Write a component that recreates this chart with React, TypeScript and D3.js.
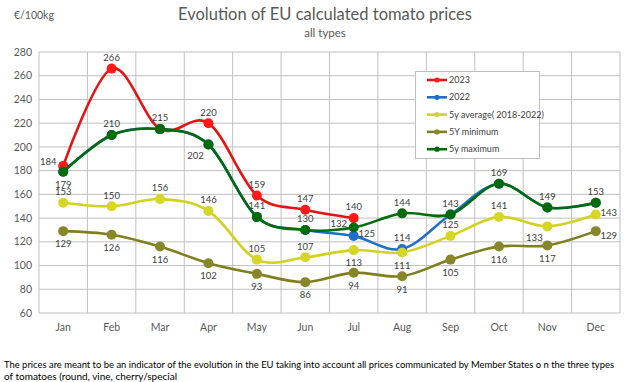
import React from 'react';
import * as d3 from 'd3';

const months = ['Jan', 'Feb', 'Mar', 'Apr', 'May', 'Jun', 'Jul', 'Aug', 'Sep', 'Oct', 'Nov', 'Dec'];
const yTicks = [60, 80, 100, 120, 140, 160, 180, 200, 220, 240, 260, 280];

const s2023 = [184, 266, 215, 220, 159, 147, 140];
const s2022 = [179, 210, 215, 202, 141, 130, 125, 114, 143, 169, 149, 153];
const sAvg = [153, 150, 156, 146, 105, 107, 113, 111, 125, 141, 133, 143];
const sMin = [129, 126, 116, 102, 93, 86, 94, 91, 105, 116, 117, 129];
const sMax = [179, 210, 215, 202, 141, 130, 132, 144, 143, 169, 149, 153];

const seriesNames = ['2023', '2022', '5y average( 2018-2022)', '5Y minimum', '5y maximum'];

// label placement codes (n = hidden)
const place2023 = ['tl', 't', 't', 't', 't', 't', 't'];
const place2022 = ['n', 'n', 'n', 'n', 'n', 'n', 'r', 't', 'n', 'n', 'n', 'n'];
const placeAvg = ['t', 't', 't', 't', 't', 't', 'b', 'b', 't', 't', 'bl', 'r'];
const placeMin = ['b', 'b', 'b', 'b', 'b', 'b', 'b', 'b', 'b', 'b', 'b', 'br'];
const placeMax = ['b', 't', 'n', 'bl', 't', 't', 'tl', 't', 't', 't', 't', 't'];

const footLines = [
  'The prices are meant to be an indicator of the evolution in the EU taking into account all prices communicated by Member States o n the three types',
  'of tomatoes (round, vine, cherry/special',
];

const W = 626;
const H = 382;
const M = { left: 39, right: 620, top: 52, bottom: 313 };

const offsets: Record<string, [number, number]> = {
  t: [0, -11],
  b: [0, 13],
  tl: [-15, -4],
  bl: [-13, 11],
  r: [13, -2],
  br: [13, 5],
};

const FONT = 'Lato, "Open Sans", sans-serif';

export default function App() {
  const x = d3.scaleBand<string>().domain(months).range([M.left, M.right]);
  const y = d3.scaleLinear().domain([60, 280]).range([M.bottom, M.top]);
  const cx = (i: number) => (x(months[i]) as number) + x.bandwidth() / 2;

  const series = [
    { name: seriesNames[0], data: s2023, line: '#e41414', marker: '#ff1a1a', place: place2023 },
    { name: seriesNames[1], data: s2022, line: '#1f6fc8', marker: '#1f6fc8', place: place2022 },
    { name: seriesNames[2], data: sAvg, line: '#d2d21e', marker: '#d6d624', place: placeAvg },
    { name: seriesNames[3], data: sMin, line: '#7f7f1e', marker: '#86862a', place: placeMin },
    { name: seriesNames[4], data: sMax, line: '#006b0c', marker: '#006b0c', place: placeMax },
  ];

  const lineGen = d3
    .line<number>()
    .x((_, i) => cx(i))
    .y((d) => y(d))
    .curve(d3.curveCardinal.tension(0));

  const grid = '#c0c0c0';
  const labelColor = '#404040';

  return (
    <svg width={W} height={H} style={{ position: 'absolute', left: 0, top: 0, background: '#fff' }} fontFamily={FONT}>
      <rect x={0} y={0} width={W} height={H} fill="#fff" />
      <text x={325} y={20} textAnchor="middle" fontSize={16.5} fill="#595959">
        Evolution of EU calculated tomato prices
      </text>
      <text x={325} y={37} textAnchor="middle" fontSize={11.5} fill="#595959">
        all types
      </text>
      <text x={14} y={19} fontSize={10.5} fill="#595959">
        €/100kg
      </text>

      {yTicks.map((t) => (
        <g key={t}>
          <line x1={M.left} x2={M.right} y1={y(t)} y2={y(t)} stroke={grid} strokeWidth={1} />
          <text x={32} y={y(t)} dy="0.35em" textAnchor="end" fontSize={10.5} fill="#595959">
            {t}
          </text>
        </g>
      ))}
      {months.map((m) => (
        <line key={m} x1={x(m)} x2={x(m)} y1={M.top} y2={M.bottom} stroke={grid} strokeWidth={1} />
      ))}
      <line x1={M.right} x2={M.right} y1={M.top} y2={M.bottom} stroke={grid} strokeWidth={1} />
      {months.map((m, i) => (
        <text key={m} x={cx(i)} y={331} textAnchor="middle" fontSize={10.5} fill="#595959">
          {m}
        </text>
      ))}

      {series.map((s) => (
        <g key={s.name}>
          <path d={lineGen(s.data) || ''} fill="none" stroke={s.line} strokeWidth={2.6} />
          {s.data.map((v, i) => (
            <circle key={i} cx={cx(i)} cy={y(v)} r={5} fill={s.marker} />
          ))}
        </g>
      ))}

      {series.map((s) =>
        s.data.map((v, i) => {
          const p = s.place[i];
          if (!p || p === 'n') return null;
          const [dx, dy] = offsets[p];
          return (
            <text
              key={s.name + i}
              x={cx(i) + dx}
              y={y(v) + dy}
              dy="0.35em"
              textAnchor="middle"
              fontSize={9.5}
              fill={labelColor}
            >
              {v}
            </text>
          );
        })
      )}

      <g>
        <rect x={415.5} y={71.5} width={124} height={87} fill="#fff" stroke="#bfbfbf" strokeWidth={1} />
        {series.map((s, i) => {
          const ly = 80 + i * 17.3;
          return (
            <g key={s.name}>
              <line x1={427} x2={447} y1={ly} y2={ly} stroke={s.line} strokeWidth={2.6} />
              <circle cx={437} cy={ly} r={2.6} fill={s.marker} />
              <text x={449} y={ly} dy="0.35em" fontSize={9} fill={labelColor}>
                {s.name}
              </text>
            </g>
          );
        })}
      </g>

      <text x={4} y={368} fontSize={9.5} fill="#000" textLength={610} lengthAdjust="spacingAndGlyphs">
        {footLines[0]}
      </text>
      <text x={4} y={380} fontSize={9.5} fill="#000" textLength={173} lengthAdjust="spacingAndGlyphs">
        {footLines[1]}
      </text>
    </svg>
  );
}
